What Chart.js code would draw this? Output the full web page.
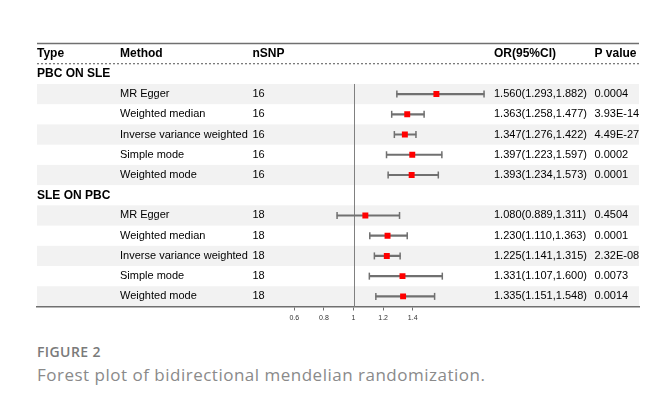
<!DOCTYPE html>
<html>
<head>
<meta charset="utf-8">
<script src="https://cdn.jsdelivr.net/npm/chart.js@4.4.1/dist/chart.umd.min.js"></script>
<style>
  html, body { margin: 0; padding: 0; background: #fff; }
  #wrap { position: absolute; left: 0; top: 0; width: 646px; height: 330px; }
  .cap1 { position: absolute; left: 37px; top: 342px; font-family: "Open Sans", sans-serif; font-weight: 600; font-size: 14px; letter-spacing: 0.4px; color: #7a7a7a; white-space: nowrap; }
  .cap2 { position: absolute; left: 37px; top: 363px; font-family: "Open Sans", sans-serif; font-weight: 400; font-size: 17px; letter-spacing: 0.5px; color: #8a8a8a; white-space: nowrap; }
</style>
</head>
<body>
<div id="wrap"><canvas id="c"></canvas></div>
<div class="cap1">FIGURE 2</div>
<div class="cap2">Forest plot of bidirectional mendelian randomization.</div>
<script>
// Mendelian randomization estimates, both directions
const groups = ['PBC ON SLE', 'SLE ON PBC'];
const methods = ['MR Egger', 'Weighted median', 'Inverse variance weighted', 'Simple mode', 'Weighted mode'];
const nSNP = [16, 16, 16, 16, 16, 18, 18, 18, 18, 18];
const orVals = [1.560, 1.363, 1.347, 1.397, 1.393, 1.080, 1.230, 1.225, 1.331, 1.335];
const lower  = [1.293, 1.258, 1.276, 1.223, 1.234, 0.889, 1.110, 1.141, 1.107, 1.151];
const upper  = [1.882, 1.477, 1.422, 1.597, 1.573, 1.311, 1.363, 1.315, 1.600, 1.548];
const pValues = ['0.0004', '3.93E-14', '4.49E-27', '0.0002', '0.0001', '0.4504', '0.0001', '2.32E-08', '0.0073', '0.0014'];
const tickValues = [0.6, 0.8, 1, 1.2, 1.4];
const headers = ['Type', 'Method', 'nSNP', 'OR(95%CI)', 'P value'];

// Table rows: header, then a title row per group followed by its methods
const rows = [{ kind: 'header', key: 'header' }];
groups.forEach((g, gi) => {
  rows.push({ kind: 'group', key: g, label: g });
  methods.forEach((m, mi) => {
    rows.push({ kind: 'data', key: g + '|' + m, method: m, i: gi * methods.length + mi, stripe: mi % 2 === 0 });
  });
});
const rowKeys = rows.map(r => r.key);
const dataRows = rows.filter(r => r.kind === 'data');

const colX = [37, 120, 252.5, 494, 594.5];
const FONT = '"Liberation Sans", Arial, sans-serif';
const GRAY = '#707070';

const tablePlugin = {
  id: 'forestTable',
  beforeDraw(chart) {
    const { ctx, chartArea, scales } = chart;
    const y = scales.y;
    const h = y.getPixelForValue(1) - y.getPixelForValue(0);
    ctx.save();
    // alternating row stripes
    ctx.fillStyle = '#f2f2f2';
    rows.forEach((r, idx) => {
      if (r.kind === 'data' && r.stripe) {
        const cy = y.getPixelForValue(idx);
        ctx.fillRect(chartArea.left, cy - h / 2, chartArea.right - chartArea.left, h);
      }
    });
    // top rule and dashed rule under the header
    const top = y.getPixelForValue(0) - h / 2;
    ctx.strokeStyle = GRAY;
    ctx.lineWidth = 1.5;
    ctx.beginPath();
    ctx.moveTo(chartArea.left, top);
    ctx.lineTo(chartArea.right, top);
    ctx.stroke();
    ctx.lineWidth = 1;
    ctx.setLineDash([2, 2]);
    ctx.strokeStyle = '#555';
    ctx.beginPath();
    ctx.moveTo(chartArea.left, top + h);
    ctx.lineTo(chartArea.right, top + h);
    ctx.stroke();
    ctx.restore();
  },
  beforeDatasetsDraw(chart) {
    // reference line at OR = 1
    const { ctx, chartArea, scales } = chart;
    const y = scales.y;
    const h = y.getPixelForValue(1) - y.getPixelForValue(0);
    const x1 = Math.round(scales.x.getPixelForValue(1)) + 0.5;
    ctx.save();
    ctx.strokeStyle = '#808080';
    ctx.lineWidth = 1;
    ctx.beginPath();
    ctx.moveTo(x1, y.getPixelForValue(2) - h / 2);
    ctx.lineTo(x1, chartArea.bottom);
    ctx.stroke();
    ctx.restore();
  },
  afterDraw(chart) {
    const { ctx, scales } = chart;
    const y = scales.y;
    ctx.save();
    ctx.textBaseline = 'middle';
    ctx.fillStyle = '#000';
    rows.forEach((r, idx) => {
      const cy = y.getPixelForValue(idx);
      if (r.kind === 'header') {
        ctx.font = 'bold 12px ' + FONT;
        headers.forEach((t, k) => ctx.fillText(t, colX[k], cy));
      } else if (r.kind === 'group') {
        ctx.font = 'bold 12px ' + FONT;
        ctx.fillText(r.label, colX[0], cy);
      } else {
        ctx.font = '11px ' + FONT;
        const i = r.i;
        ctx.fillText(r.method, colX[1], cy);
        ctx.fillText(String(nSNP[i]), colX[2], cy);
        ctx.fillText(orVals[i].toFixed(3) + '(' + lower[i].toFixed(3) + ',' + upper[i].toFixed(3) + ')', colX[3], cy);
        ctx.fillText(pValues[i], colX[4], cy);
      }
    });
    ctx.restore();
  }
};

const ciData = rows.map(r => r.kind === 'data' ? [lower[r.i], upper[r.i]] : null);
const lowCaps = dataRows.map(r => ({ x: lower[r.i], y: r.key }));
const highCaps = dataRows.map(r => ({ x: upper[r.i], y: r.key }));
const points = dataRows.map(r => ({ x: orVals[r.i], y: r.key }));

new Chart(document.getElementById('c'), {
  type: 'bar',
  data: {
    labels: rowKeys,
    datasets: [
      { type: 'scatter', data: points, pointStyle: 'rect', pointRadius: 4.2, backgroundColor: '#ff0000', borderWidth: 0, order: 0 },
      { type: 'scatter', data: lowCaps, pointStyle: 'line', rotation: 90, pointRadius: 3.5, borderColor: GRAY, borderWidth: 1.5, order: 1 },
      { type: 'scatter', data: highCaps, pointStyle: 'line', rotation: 90, pointRadius: 3.5, borderColor: GRAY, borderWidth: 1.5, order: 1 },
      { type: 'bar', data: ciData, backgroundColor: GRAY, borderWidth: 0, barThickness: 1.5, grouped: false, order: 2 }
    ]
  },
  options: {
    indexAxis: 'y',
    responsive: true,
    maintainAspectRatio: false,
    animation: false,
    events: [],
    layout: { padding: { left: 37, right: 7, top: 43.5, bottom: 0 } },
    plugins: { legend: { display: false }, tooltip: { enabled: false } },
    scales: {
      y: { type: 'category', display: false, offset: true },
      x: {
        type: 'linear',
        min: -1.1385,
        max: 2.929,
        afterBuildTicks(scale) { scale.ticks = tickValues.map(v => ({ value: v })); },
        afterFit(scale) { scale.height = 23.5; },
        grid: { drawOnChartArea: false, drawTicks: true, tickLength: 4, color: GRAY, lineWidth: 1 },
        border: { display: true, color: GRAY, width: 1.5 },
        ticks: { autoSkip: false, maxRotation: 0, padding: 3, color: '#333', font: { size: 7, family: FONT }, callback: v => String(v) }
      }
    }
  },
  plugins: [tablePlugin]
});
</script>
</body>
</html>
